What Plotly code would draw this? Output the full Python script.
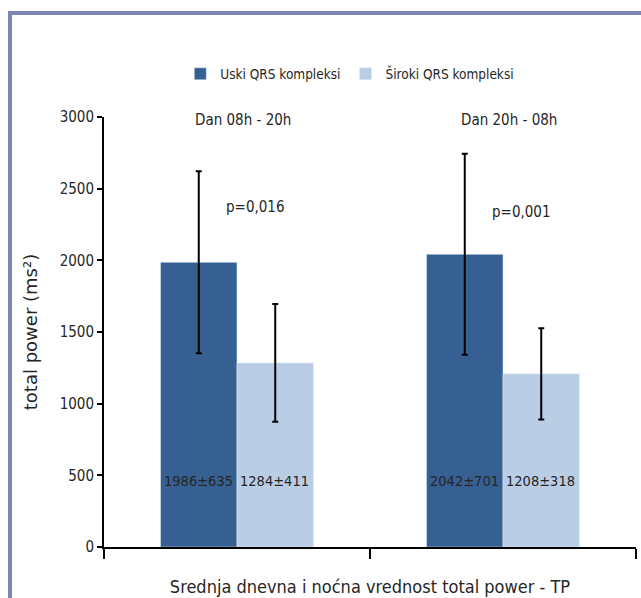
import plotly.graph_objects as go

categories = ["Dan 08h - 20h", "Dan 20h - 08h"]
series_names = ["Uski QRS kompleksi", "Široki QRS kompleksi"]
uski_mean = [1986, 2042]
uski_sd = [635, 701]
siroki_mean = [1284, 1208]
siroki_sd = [411, 318]
p_values = ["p=0,016", "p=0,001"]
y_ticks = [0, 500, 1000, 1500, 2000, 2500, 3000]

FONT = "Liberation Sans Narrow, DejaVu Sans Condensed, Arial Narrow, sans-serif"
DARK = "#366092"
LIGHT = "#b9cde5"
TXT = "#262626"

fig = go.Figure()
fig.add_bar(x=categories, y=uski_mean, name=series_names[0], marker_color=DARK,
            error_y=dict(type="data", array=uski_sd, visible=True, color="black", thickness=2, width=3))
fig.add_bar(x=categories, y=siroki_mean, name=series_names[1], marker_color=LIGHT,
            error_y=dict(type="data", array=siroki_sd, visible=True, color="black", thickness=2, width=3))

ann = []
for i, c in enumerate(categories):
    ann.append(dict(x=i, xref="x", y=2980, yref="y", text=c, showarrow=False,
                    xshift=6, yanchor="middle", font=dict(size=15, color=TXT, family=FONT)))
    ann.append(dict(x=i, xref="x", y=2370 if i == 0 else 2335, yref="y", text=p_values[i], showarrow=False,
                    xshift=18, yanchor="middle", font=dict(size=15, color=TXT, family=FONT)))
    ann.append(dict(x=i, xref="x", y=460, yref="y", text=f"{uski_mean[i]}±{uski_sd[i]}", showarrow=False,
                    xshift=-39, yanchor="middle", font=dict(size=14.5, color=TXT, family=FONT)))
    ann.append(dict(x=i, xref="x", y=460, yref="y", text=f"{siroki_mean[i]}±{siroki_sd[i]}", showarrow=False,
                    xshift=37, yanchor="middle", font=dict(size=14.5, color=TXT, family=FONT)))

W, H = 641, 598
L, R, T, B = 104, 5, 117, 51
pw, ph = W - L - R, H - T - B
def px(x):
    return (x - L) / pw
def py(y):
    return 1 - (y - T) / ph

border = "#7b86b4"
shapes = [
    dict(type="rect", xref="paper", yref="paper", x0=px(8), x1=px(12), y0=py(598), y1=py(11),
         fillcolor=border, line_width=0, layer="above"),
    dict(type="rect", xref="paper", yref="paper", x0=px(8), x1=px(641), y0=py(15), y1=py(11),
         fillcolor=border, line_width=0, layer="above"),
]

fig.update_layout(
    width=W, height=H,
    margin=dict(l=L, r=R, t=T, b=B, autoexpand=False),
    paper_bgcolor="white", plot_bgcolor="white",
    barmode="group", bargap=0.425, bargroupgap=0,
    showlegend=True,
    legend=dict(orientation="h", x=0.462, xanchor="center", y=py(74), yanchor="middle",
                font=dict(size=13.5, color=TXT, family=FONT), itemwidth=30,
                traceorder="normal"),
    annotations=ann,
    shapes=shapes,
    font=dict(family=FONT, color=TXT),
)
fig.update_xaxes(automargin=False, showline=True, linecolor="black", linewidth=2, ticks="outside",
                 tickson="boundaries", ticklen=10, tickwidth=2, tickcolor="black", showticklabels=False,
                 showgrid=False,
                 title=dict(text="Srednja dnevna i noćna vrednost total power - TP", standoff=32,
                            font=dict(size=18, color=TXT, family=FONT)))
fig.update_yaxes(automargin=False, range=[0, 3000], tickvals=y_ticks, showline=True, linecolor="black",
                 linewidth=2, ticks="outside", ticklen=5, tickwidth=2, tickcolor="black", showgrid=False,
                 zeroline=False, tickfont=dict(size=15, color=TXT, family=FONT),
                 title=dict(text="total power (ms²)", standoff=17,
                            font=dict(size=18, color=TXT, family="DejaVu Sans, Verdana, sans-serif")))

fig.write_html("out.html", config={"displayModeBar": False},
               post_script="document.body.style.margin='0';document.body.style.overflow='hidden';")
